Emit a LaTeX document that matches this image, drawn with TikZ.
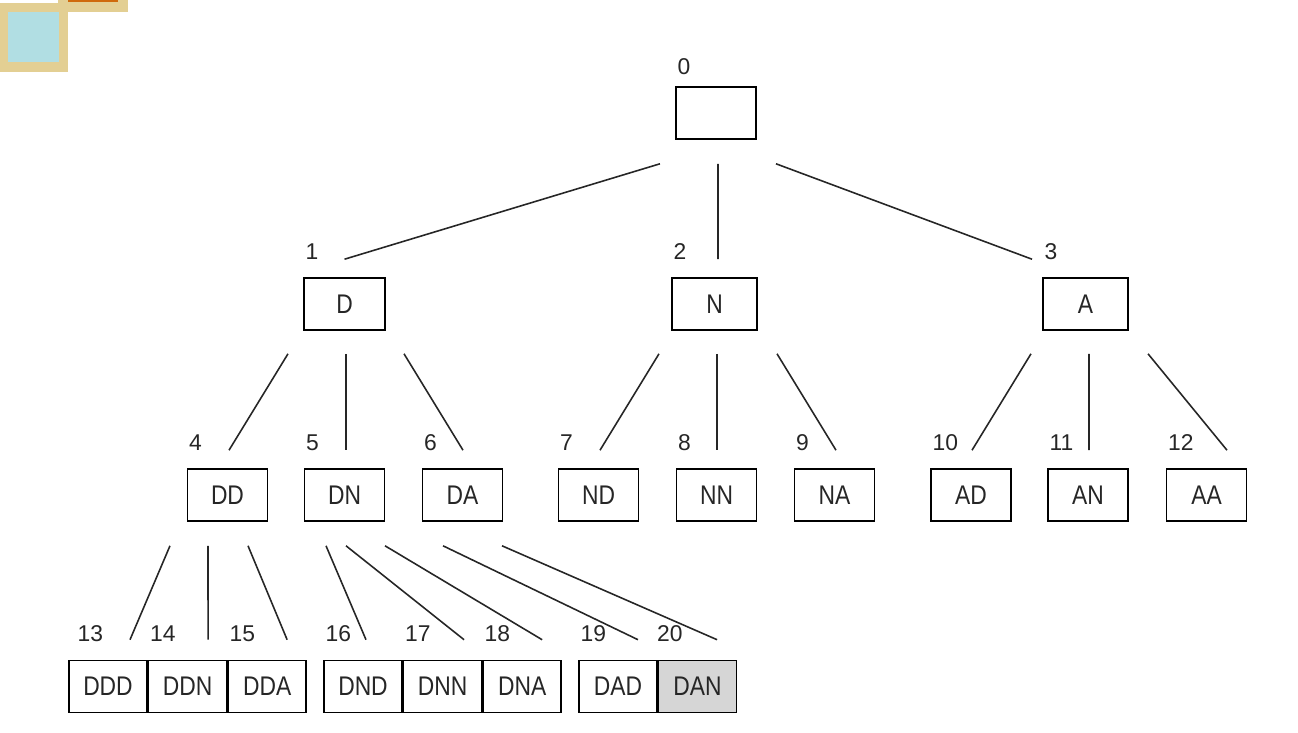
\documentclass[tikz,border=0pt]{standalone}
\usepackage{fontspec}
\setmainfont{Liberation Sans}
\usepackage{graphicx}
\usetikzlibrary{calc, positioning}

\definecolor{frametan}{HTML}{E3CF93}
\definecolor{paleblue}{HTML}{B1DEE3}
\definecolor{rust}{HTML}{CF6A0C}
\definecolor{shade}{HTML}{D6D6D6}

\newcommand{\tall}[1]{\scalebox{1}[1.18]{#1}}

\tikzset{
  box/.style = {draw, line width=0.9pt, minimum width=1.6cm, minimum height=1.04cm,
    inner sep=0pt, text=black!85, font=\fontsize{13}{13}\selectfont},
  leaf/.style = {box, minimum width=1.56cm},
  num/.style = {anchor=base west, inner sep=0pt, xshift=0.04cm, yshift=0.36cm,
    text=black!85, font=\fontsize{13}{13}\selectfont},
  edge/.style = {line width=0.9pt, black!85}
}

\begin{document}
\begin{tikzpicture}[x=0.02cm, y=-0.02cm]
  \useasboundingbox (0,0) rectangle (1298,733);

  % corner squares
  \fill[frametan] (58,0) rectangle (128,12);
  \fill[rust] (68,0) rectangle (118,2);
  \fill[frametan] (0,3) rectangle (68,72);
  \fill[paleblue] (8,12) rectangle (59,62);

  % root and first level
  \node[box, label={[num, yshift=-0.12cm]north west:0}] (n0) at (716,113) {};
  \node[box, minimum width=1.62cm, label={[num]north west:1}] (n1) at (344.5,304) {\tall{D}};
  \node[box, minimum width=1.7cm, label={[num]north west:2}] (n2) at (714.5,304) {\tall{N}};
  \node[box, minimum width=1.7cm, label={[num]north west:3}] (n3) at (1085.5,304) {\tall{A}};

  % second level
  \node[box, label={[num]north west:4}] (n4) at (227.5,495) {\tall{DD}};
  \node[box, label={[num]north west:5}] (n5) at (344.5,495) {\tall{DN}};
  \node[box, label={[num]north west:6}] (n6) at (462.5,495) {\tall{DA}};
  \node[box, label={[num]north west:7}] (n7) at (598.5,495) {\tall{ND}};
  \node[box, label={[num]north west:8}] (n8) at (716.5,495) {\tall{NN}};
  \node[box, label={[num]north west:9}] (n9) at (834.5,495) {\tall{NA}};
  \node[box, label={[num]north west:10}] (n10) at (971,495) {\tall{AD}};
  \node[box, label={[num]north west:11}] (n11) at (1088,495) {\tall{AN}};
  \node[box, label={[num]north west:12}] (n12) at (1206.5,495) {\tall{AA}};

  % third level
  \node[leaf, label={[num, xshift=0.14cm]north west:13}] (n13) at (108,686.5) {\tall{DDD}};
  \node[leaf, right=0pt of n13, label={[num]north west:14}] (n14) {\tall{DDN}};
  \node[leaf, right=0pt of n14, label={[num]north west:15}] (n15) {\tall{DDA}};
  \node[leaf, label={[num]north west:16}] (n16) at (363,686.5) {\tall{DND}};
  \node[leaf, right=0pt of n16, label={[num]north west:17}] (n17) {\tall{DNN}};
  \node[leaf, right=0pt of n17, label={[num]north west:18}] (n18) {\tall{DNA}};
  \node[leaf, label={[num]north west:19}] (n19) at (618,686.5) {\tall{DAD}};
  \node[leaf, fill=shade, right=0pt of n19, label={[num, xshift=-0.06cm]north west:20}] (n20) {\tall{DAN}};

  % links
  \draw[edge] ($(n0.south)+(-56,24)$) -- ($(n1.north)+(0,-18)$);
  \draw[edge] ($(n0.south)+(2,24)$) -- ($(n2.north)+(3.5,-18)$);
  \draw[edge] ($(n0.south)+(60,24)$) -- ($(n3.north)+(-53.5,-18)$);

  \draw[edge] ($(n1.south)+(-56.5,23)$) -- ($(n4.north)+(1.5,-18)$);
  \draw[edge] ($(n1.south)+(1.5,23)$) -- ($(n5.north)+(1.5,-18)$);
  \draw[edge] ($(n1.south)+(59.5,23)$) -- ($(n6.north)+(0.5,-18)$);
  \draw[edge] ($(n2.south)+(-55.5,23)$) -- ($(n7.north)+(1.5,-18)$);
  \draw[edge] ($(n2.south)+(2.5,23)$) -- ($(n8.north)+(0.5,-18)$);
  \draw[edge] ($(n2.south)+(62.5,23)$) -- ($(n9.north)+(1.5,-18)$);
  \draw[edge] ($(n3.south)+(-54.5,23)$) -- ($(n10.north)+(1,-18)$);
  \draw[edge] ($(n3.south)+(3.5,23)$) -- ($(n11.north)+(1,-18)$);
  \draw[edge] ($(n3.south)+(62.5,23)$) -- ($(n12.north)+(20.5,-18)$);

  \draw[edge] ($(n4.south)+(-57.5,24)$) -- ($(n13.north)+(22,-20)$);
  \draw[edge] ($(n4.south)+(-19.5,24)$) -- ($(n14.north)+(20.5,-20)$);
  \draw[edge] ($(n4.south)+(20.5,24)$) -- ($(n15.north)+(20,-20)$);
  \draw[edge] ($(n5.south)+(-18.5,24)$) -- ($(n16.north)+(3,-20)$);
  \draw[edge] ($(n5.south)+(1.5,24)$) -- ($(n17.north)+(21.5,-20)$);
  \draw[edge] ($(n5.south)+(40.5,24)$) -- ($(n18.north)+(20,-20)$);
  \draw[edge] ($(n6.south)+(-19.5,24)$) -- ($(n19.north)+(20,-20)$);
  \draw[edge] ($(n6.south)+(39.5,24)$) -- ($(n20.north)+(19.5,-20)$);
\end{tikzpicture}
\end{document}
